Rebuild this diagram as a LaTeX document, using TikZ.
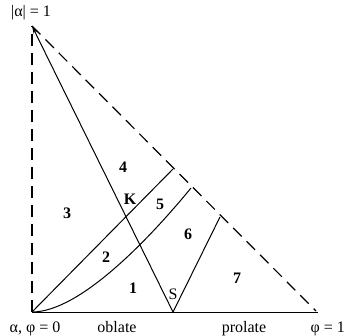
\documentclass[tikz,border=0pt]{standalone}
\usepackage{fontspec}
\setmainfont{Liberation Serif}
\usetikzlibrary{arrows.meta,calc}

\tikzset{
  >={Stealth[length=8pt,width=4pt]},
  bound/.style={line width=1.2pt,dash pattern=on 12pt off 7pt},
  edge/.style={line width=1pt},
  region/.style={font=\fontsize{16}{18}\selectfont\bfseries,inner sep=1pt},
  axislbl/.style={font=\fontsize{16}{18}\selectfont,inner sep=1pt},
}

\begin{document}
\begin{tikzpicture}[x=1pt,y=-1pt]
  \useasboundingbox (0,0) rectangle (347,335);
  % corners of the triangle
  \coordinate (O) at (32,312);
  \coordinate (T) at (32,26);
  \coordinate (R) at (316,311);
  \coordinate (E) at (318,312);
  \coordinate (S) at (173,312);
  % ends of the boundaries on the dashed edge
  \coordinate (A) at (173,169);
  \coordinate (B) at (191,188);
  \coordinate (C) at (220,217);
  \coordinate (K) at (intersection of O--A and T--S);

  \draw[bound] (O) -- (T);
  \draw[bound] (T) -- (R);
  \draw[edge] (O) -- (E);
  \draw[edge,->] (S) -- (T);
  \draw[edge] (O) -- (A);
  \draw[edge] (O) .. controls (80,312) and (150,238) .. (B);
  \draw[edge] (S) -- (C);

  % regions
  \node[region] (r1) at (133,288) {1};
  \node[region] (r2) at (106,257) {2};
  \node[region] (r3) at (67,213) {3};
  \node[region] (r4) at (123,167) {4};
  \node[region] (r5) at (160,204) {5};
  \node[region] (r6) at (188,234) {6};
  \node[region] (r7) at (237,278) {7};
  \node[region] (kl) at ($(K)+(4,-17)$) {K};
  \node[axislbl] (sl) at ($(S)+(0,-18)$) {S};

  % axis labels
  \node[axislbl] (top) at (31,13) {|α| = 1};
  \node[axislbl,anchor=base] (zero) at (35,332) {α, φ = 0};
  \node[axislbl,anchor=base] (obl) at (117,332) {oblate};
  \node[axislbl,anchor=base] (pro) at (244,332) {prolate};
  \node[axislbl,anchor=base east] (one) at (346,332) {φ = 1};
\end{tikzpicture}
\end{document}
